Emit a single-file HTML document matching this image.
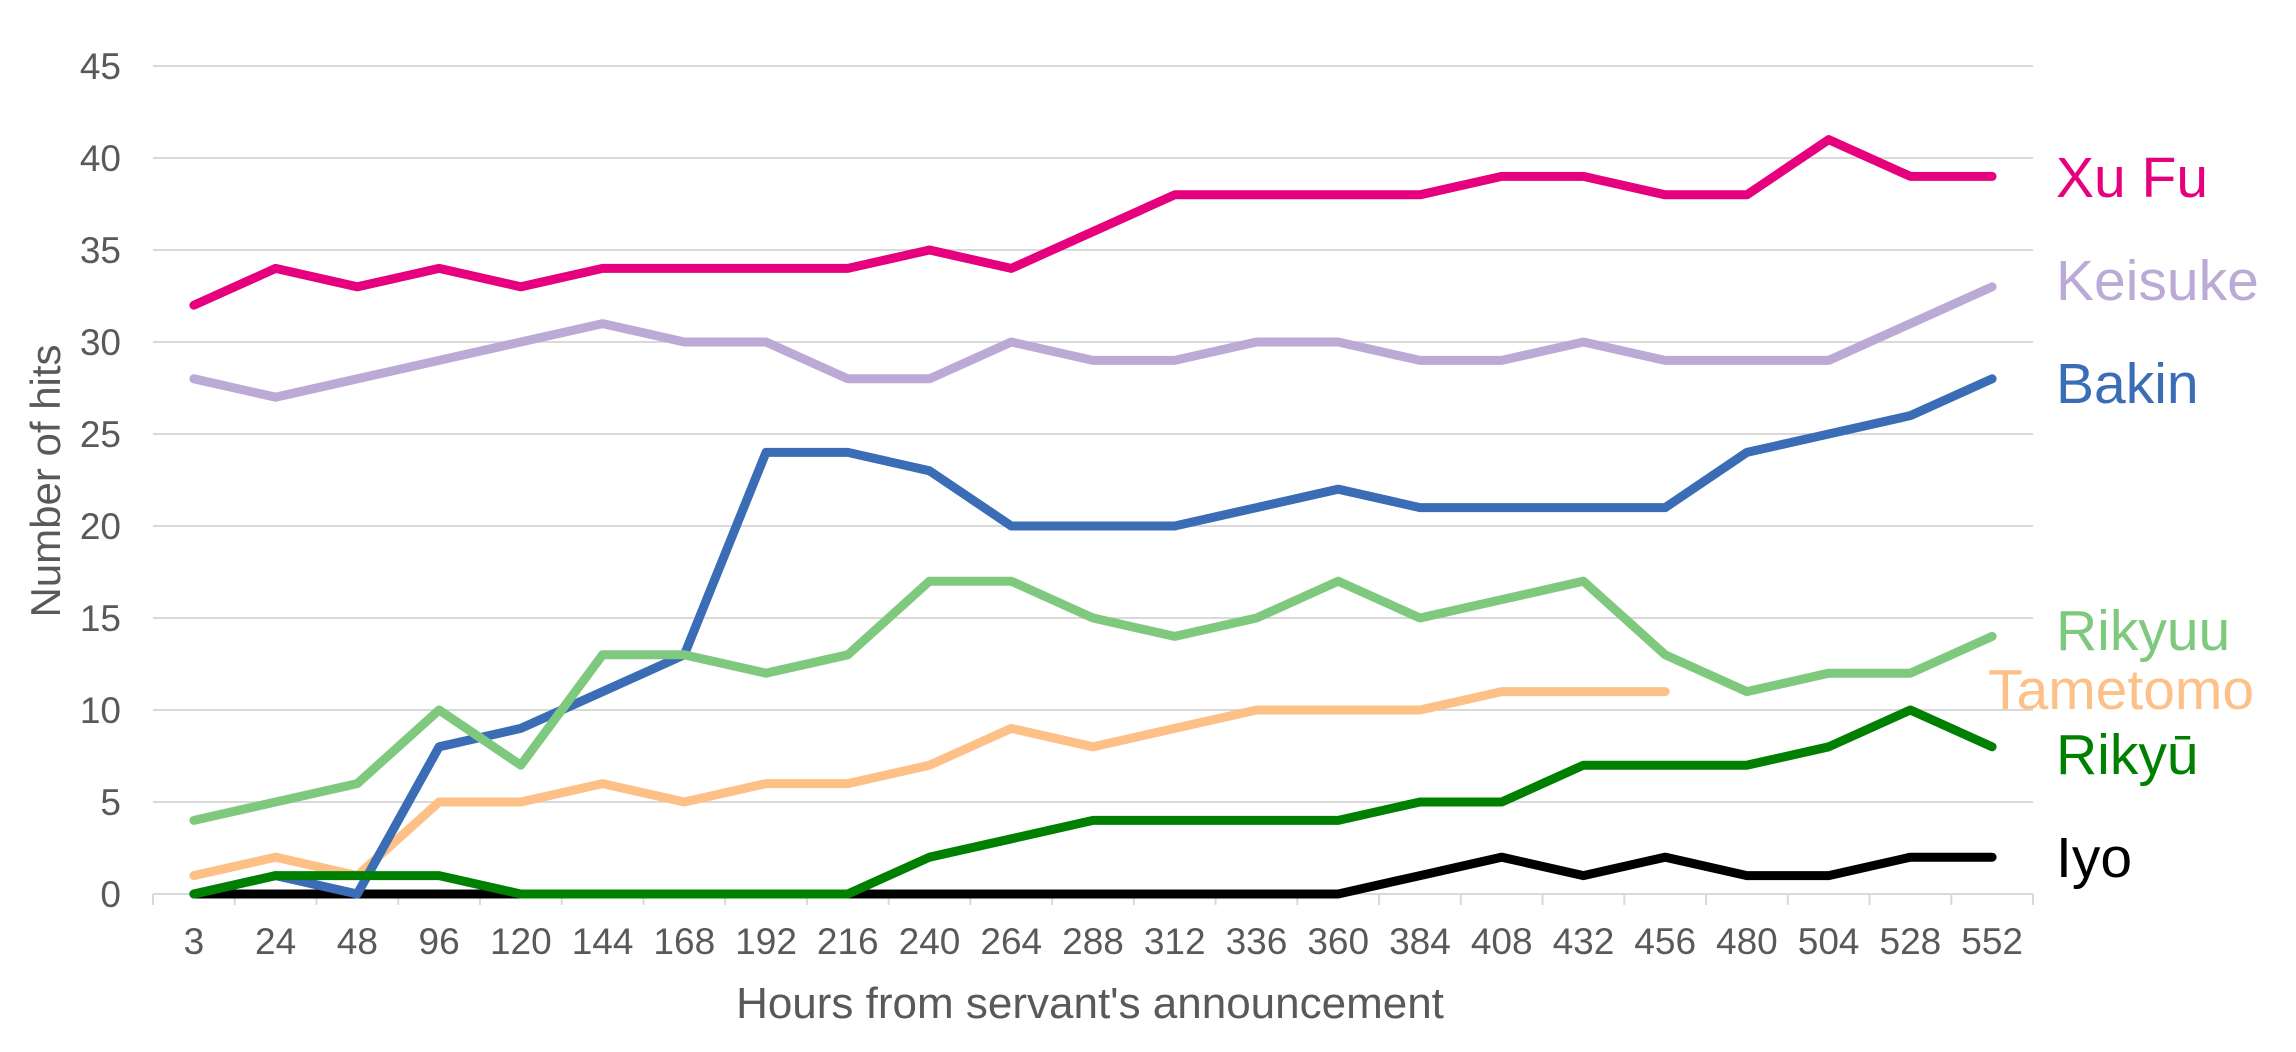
<!DOCTYPE html>
<html><head><meta charset="utf-8"><style>
html,body{margin:0;padding:0;background:#fff}
svg{display:block}
</style></head><body>
<svg id="c" width="2296" height="1052" xmlns="http://www.w3.org/2000/svg" font-family="Liberation Sans, sans-serif">
<g id="grid"></g>
<g id="series" fill="none" stroke-width="9" stroke-linejoin="round" stroke-linecap="round"></g>
<g font-size="37" fill="#595959" id="labels"></g>
<text x="1090" y="1018" font-size="44" fill="#595959" text-anchor="middle">Hours from servant's announcement</text>
<text transform="translate(60,481) rotate(-90)" font-size="42" fill="#595959" text-anchor="middle">Number of hits</text>
<g font-size="57">
<text x="2056" y="197" fill="#E6007E">Xu Fu</text>
<text x="2056" y="300" fill="#BBAAD6">Keisuke</text>
<text x="2056" y="403" fill="#3A6DB5">Bakin</text>
<text x="2056" y="650" fill="#7FC97F">Rikyuu</text>
<text x="1988" y="709" fill="#FDC086">Tametomo</text>
<text x="2056" y="774" fill="#008000">Rikyū</text>
<text x="2056" y="877" fill="#000">Iyo</text>
</g>
</svg>
<script>
var ns="http://www.w3.org/2000/svg";
var L=153,R=2033,Y0=894,S=18.4,N=23,W=(R-L)/N;
function el(p,t,a){var e=document.createElementNS(ns,t);for(var k in a)e.setAttribute(k,a[k]);p.appendChild(e);return e;}
var g=document.getElementById('grid'),lb=document.getElementById('labels'),sg=document.getElementById('series');
for(var v=5;v<=45;v+=5){var y=Y0-v*S;el(g,'line',{x1:L,x2:R,y1:y,y2:y,stroke:'#d9d9d9','stroke-width':2});}
el(g,'line',{x1:L,x2:R,y1:Y0,y2:Y0,stroke:'#d9d9d9','stroke-width':2});
for(var i=0;i<=N;i++){var x=L+i*W;el(g,'line',{x1:x,x2:x,y1:Y0,y2:Y0+11,stroke:'#d9d9d9','stroke-width':2});}
for(var v=0;v<=45;v+=5){var t=el(lb,'text',{x:121,y:Y0-v*S+13,'text-anchor':'end'});t.textContent=v;}
var cats=[3,24,48,96,120,144,168,192,216,240,264,288,312,336,360,384,408,432,456,480,504,528,552];
cats.forEach(function(c,i){var t=el(lb,'text',{x:L+(i+.5)*W,y:954,'text-anchor':'middle'});t.textContent=c;});
var data=[
['#000',[0,0,0,0,0,0,0,0,0,0,0,0,0,0,0,1,2,1,2,1,1,2,2]],
['#FDC086',[1,2,1,5,5,6,5,6,6,7,9,8,9,10,10,10,11,11,11]],
['#3A6DB5',[0,1,0,8,9,11,13,24,24,23,20,20,20,21,22,21,21,21,21,24,25,26,28]],
['#008000',[0,1,1,1,0,0,0,0,0,2,3,4,4,4,4,5,5,7,7,7,8,10,8]],
['#7FC97F',[4,5,6,10,7,13,13,12,13,17,17,15,14,15,17,15,16,17,13,11,12,12,14]],
['#BBAAD6',[28,27,28,29,30,31,30,30,28,28,30,29,29,30,30,29,29,30,29,29,29,31,33]],
['#E6007E',[32,34,33,34,33,34,34,34,34,35,34,36,38,38,38,38,39,39,38,38,41,39,39]]
];
data.forEach(function(d){var p=d[1].map(function(v,i){return (L+(i+.5)*W).toFixed(1)+','+(Y0-v*S).toFixed(1);}).join(' ');
el(sg,'polyline',{points:p,stroke:d[0]});});
</script>
</body></html>
